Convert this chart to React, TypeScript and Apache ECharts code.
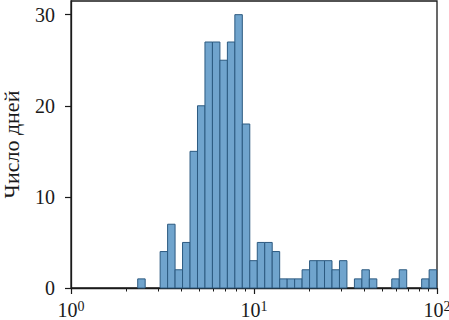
import React, { useEffect, useRef } from "react";
import * as echarts from "echarts";

// Histogram: 40 log-spaced bins between these edges
const binEdgeMin = 2.315;
const binEdgeMax = 99.5;
const counts = [
  1, 0, 0, 4, 7, 2, 5, 15, 20, 27,
  27, 25, 27, 30, 18, 3, 5, 5, 4, 1,
  1, 1, 2, 3, 3, 3, 2, 3, 0, 1,
  2, 1, 0, 0, 1, 2, 0, 0, 1, 2,
];
const yTicks = [0, 10, 20, 30];
const xMajorTicks = [1, 10, 100];
const xMinorTicks = [2, 3, 4, 5, 6, 7, 8, 9, 20, 30, 40, 50, 60, 70, 80, 90];
const yLabel = "Число дней";

const FONT = "'Liberation Serif', 'DejaVu Serif', serif";

export default function App() {
  const ref = useRef<HTMLDivElement>(null);
  useEffect(() => {
    document.body.style.margin = "0";
    const chart = echarts.init(ref.current!, null, { renderer: "svg" });
    const n = counts.length;
    const lMin = Math.log10(binEdgeMin);
    const lMax = Math.log10(binEdgeMax);
    const step = (lMax - lMin) / n;
    const bars = counts.map((c, i) => [
      Math.pow(10, lMin + i * step),
      Math.pow(10, lMin + (i + 1) * step),
      c,
    ]);
    const axisColor = "#1a1a1a";
    chart.setOption({
      animation: false,
      grid: {
        left: 71,
        right: 12,
        top: 1,
        bottom: 32,
        outerBoundsMode: "none",
        containLabel: false,
        show: true,
        borderColor: axisColor,
        borderWidth: 1.3,
        backgroundColor: "transparent",
      },
      xAxis: [
        {
          type: "log",
          logBase: 10,
          min: 1,
          max: 100,
          axisLine: { show: true, lineStyle: { color: axisColor, width: 1.3 } },
          axisTick: {
            show: true,
            inside: false,
            length: 6,
            lineStyle: { color: axisColor, width: 1.2 },
            customValues: xMajorTicks,
          },
          splitLine: { show: false },
          axisLabel: {
            margin: 12,
            customValues: xMajorTicks,
            formatter: (v: number) => `{b|10}{s|${Math.round(Math.log10(v))}}`,
            rich: {
              b: { fontFamily: FONT, fontSize: 20, lineHeight: 19, color: axisColor },
              s: {
                fontFamily: FONT,
                fontSize: 14,
                lineHeight: 12,
                color: axisColor,
                padding: [0, 0, 7, 0],
              },
            },
          },
        },
        {
          type: "log",
          logBase: 10,
          min: 1,
          max: 100,
          position: "bottom",
          axisLine: { show: false },
          axisTick: {
            show: true,
            inside: false,
            length: 3.5,
            lineStyle: { color: axisColor, width: 1 },
            customValues: xMinorTicks,
          },
          axisLabel: { show: false },
          splitLine: { show: false },
        },
      ],
      yAxis: {
        type: "value",
        min: 0,
        max: 31.5,
        name: yLabel,
        nameLocation: "middle",
        nameGap: 50,
        nameTextStyle: { fontFamily: FONT, fontSize: 22, lineHeight: 20, color: axisColor },
        axisLine: { show: true, lineStyle: { color: axisColor, width: 1.3 } },
        axisTick: {
          show: true,
          inside: false,
          length: 6,
          lineStyle: { color: axisColor, width: 1.2 },
          customValues: yTicks,
        },
        splitLine: { show: false },
        axisLabel: {
          margin: 16,
          customValues: yTicks,
          fontFamily: FONT,
          fontSize: 20,
          color: axisColor,
        },
      },
      series: [
        {
          type: "custom",
          xAxisIndex: 0,
          data: bars,
          renderItem: (params: any, api: any) => {
            const p0 = api.coord([api.value(0), api.value(2)]);
            const p1 = api.coord([api.value(1), 0]);
            if (api.value(2) <= 0) return null;
            return {
              type: "rect",
              shape: { x: p0[0], y: p0[1], width: p1[0] - p0[0], height: p1[1] - p0[1] },
              style: { fill: "#70a4cd", stroke: "#2c5a80", lineWidth: 1 },
            };
          },
        },
      ],
    });
    return () => chart.dispose();
  }, []);
  return <div ref={ref} style={{ width: 449, height: 320 }} />;
}
